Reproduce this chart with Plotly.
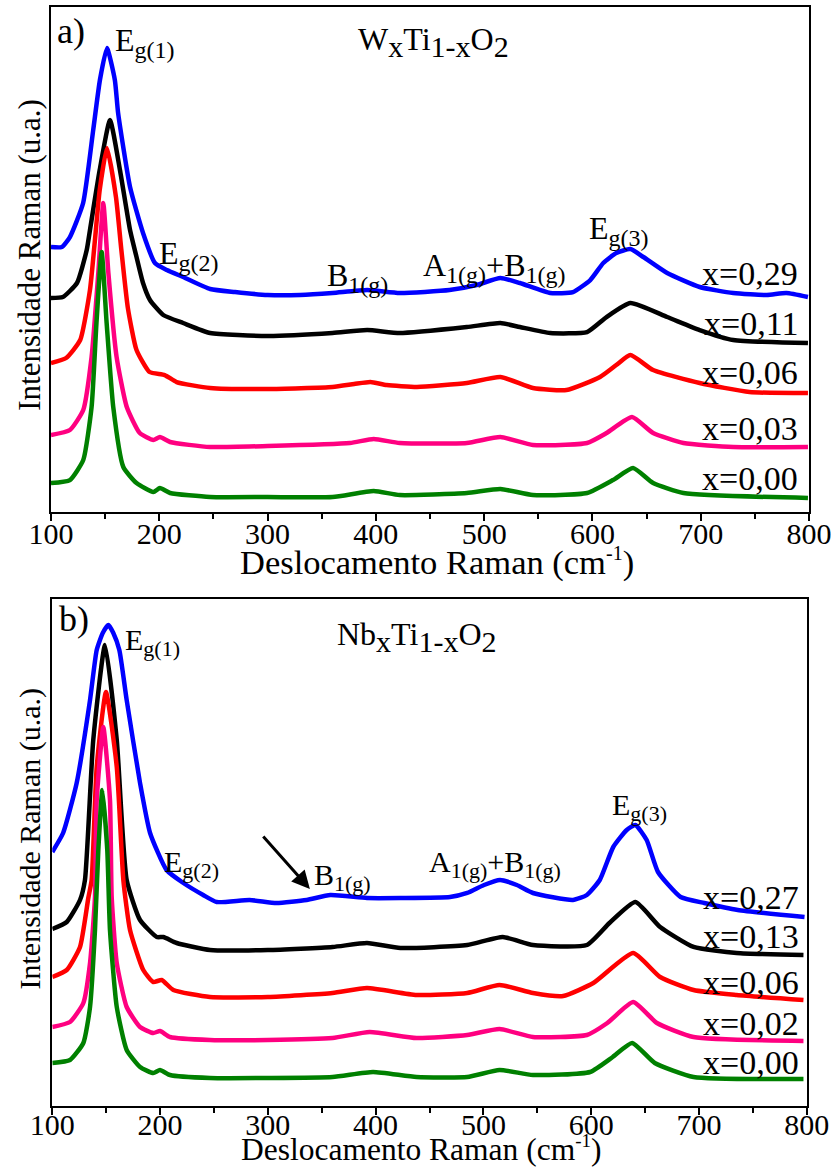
import plotly.graph_objects as go

FONT = "Liberation Serif, Times New Roman, Times, serif"

# ---------------- (a) WxTi1-xO2 : stacked Raman spectra (a.u.) ----------------
wa_000_shift = [100, 117.5, 129.8, 137.5, 142, 146.8, 151.4, 157.5, 166.8, 179, 194.5, 200.6, 210,
                247, 300, 360, 398, 422, 484, 515, 545, 595, 619, 637.5, 656, 684, 799]
wa_000_int = [29, 32, 52, 105, 189, 260, 189, 105, 45, 29, 20, 24, 19,
              15, 15, 15, 21, 17, 19, 23, 17, 19, 32, 44, 29, 19, 14]

wa_003_shift = [100, 117.5, 129.8, 137.5, 143.7, 148.3, 153, 160.6, 170, 182, 194.5, 200.6, 210,
                247, 300, 376, 398, 422, 484, 515, 545, 595, 613, 636.5, 656, 684, 730, 799]
wa_003_int = [77, 82, 102, 155, 239, 309, 239, 155, 105, 79, 72, 75, 70,
              65, 66, 69, 73, 69, 69, 75, 67, 69, 79, 95, 79, 69, 65, 65]

wa_006_shift = [100, 114, 127, 136, 140.6, 145, 151.7, 160, 165, 171, 179, 191, 205, 216,
                247, 300, 360, 380, 395, 410, 438, 484, 515, 545, 576, 607, 622, 635, 656,
                699, 745, 799]
wa_006_int = [149, 154, 172, 222, 272, 322, 364, 315, 262, 204, 162, 140, 137, 130,
              124, 123, 125, 128, 130, 127, 125, 129, 135, 124, 122, 135, 147, 157, 142,
              129, 120, 119]

wa_011_shift = [100, 111, 124, 133, 136, 145, 154.5, 163.7, 173, 179, 185, 191.4, 203.7, 222,
                247, 300, 360, 392, 422, 484, 515, 533, 561, 595, 613, 635, 669, 699, 730, 799]
wa_011_int = [214, 215, 229, 262, 282, 342, 392, 342, 282, 255, 229, 212, 197, 189,
              179, 176, 179, 182, 179, 185, 189, 185, 179, 180, 195, 209, 195, 182, 172, 169]

wa_029_shift = [100, 110, 117.5, 129.7, 139, 145.2, 151.7, 159, 162, 173, 185, 196, 207, 222,
                247, 270, 300, 330, 360, 392, 422, 468, 493, 515, 533, 561, 582, 598, 610,
                622, 635, 647, 669, 699, 730, 761, 779, 799]
wa_029_int = [265, 265, 275, 309, 382, 432, 464, 432, 399, 325, 279, 249, 242, 235,
              223, 220, 217, 217, 219, 222, 219, 222, 227, 234, 229, 219, 220, 232, 249,
              259, 263, 255, 239, 225, 219, 217, 219, 215]

# ---------------- (b) NbxTi1-xO2 : stacked Raman spectra (a.u.) ----------------
nb_000_shift = [100, 116.4, 128.8, 135, 139.6, 142.7, 146.4, 151, 153.5, 159.8, 169, 181.4,
                193.7, 199.9, 209.2, 246.3, 300, 360, 397.6, 438, 485, 515, 546, 599, 620,
                638, 659, 695, 797]
nb_000_int = [43, 46, 63, 99, 176, 256, 316, 256, 176, 99, 56, 39,
              33, 36, 31, 28, 28, 29, 34, 29, 29, 36, 31, 34, 49,
              63, 43, 29, 27]

nb_002_shift = [100, 116.4, 128.8, 135, 139.6, 141.2, 147.3, 153.5, 155.1, 159.8, 169, 181.4,
                193.7, 199.9, 209.2, 246.3, 300, 360, 394.5, 438, 485, 515, 546, 596, 615,
                639, 661, 695, 797]
nb_002_int = [79, 84, 103, 143, 209, 306, 379, 306, 209, 143, 99, 79,
              73, 75, 69, 66, 66, 68, 74, 68, 71, 77, 69, 71, 83,
              104, 83, 69, 65]

nb_006_shift = [100, 113.4, 125.7, 133.4, 136.5, 141.2, 149.8, 159.8, 166, 172.1, 184.4, 193.7,
                201.5, 212.3, 246.3, 300, 360, 392, 438, 485, 515, 546, 574, 602, 639, 664,
                695, 735, 797]
nb_006_int = [129, 136, 159, 208, 226, 339, 414, 339, 225, 176, 136, 124,
              126, 116, 109, 109, 113, 118, 111, 113, 121, 113, 110, 123, 153, 129,
              116, 111, 106]

nb_013_shift = [100, 113.4, 125.7, 130.3, 138, 148.9, 159.8, 169, 181.4, 196.9, 203, 215.4,
                246.3, 300, 360, 392, 423, 485, 518, 546, 596, 617, 641, 664, 695, 735, 797]
nb_013_int = [177, 184, 206, 226, 366, 461, 366, 226, 186, 169, 169, 163,
              156, 156, 159, 163, 158, 161, 169, 161, 161, 183, 204, 179, 159, 153, 151]

nb_027_shift = [100, 110, 122.6, 135, 141.2, 146.8, 152, 156.6, 162.2, 169, 181.4, 190.7, 206,
                221.6, 240, 252.5, 283, 308, 336, 358, 392, 423, 469, 485, 500.6, 515.4, 531,
                546, 583, 596, 608, 620.5, 633, 641, 651.5, 662, 683, 705, 736, 798]
nb_027_int = [254, 273, 323, 406, 456, 473, 481, 473, 456, 406, 323, 273, 236,
              223, 211, 204, 206, 203, 206, 211, 208, 208, 209, 213, 221, 226, 221,
              213, 206, 211, 226, 259, 276, 281, 266, 234, 209, 203, 196, 189]

colors = ["#0000FF", "#000000", "#FF0000", "#FF0080", "#008000"]

panel_a = [(wa_029_shift, wa_029_int), (wa_011_shift, wa_011_int), (wa_006_shift, wa_006_int),
           (wa_003_shift, wa_003_int), (wa_000_shift, wa_000_int)]
panel_b = [(nb_027_shift, nb_027_int), (nb_013_shift, nb_013_int), (nb_006_shift, nb_006_int),
           (nb_002_shift, nb_002_int), (nb_000_shift, nb_000_int)]

labels_a = ["x=0,29", "x=0,11", "x=0,06", "x=0,03", "x=0,00"]
labels_b = ["x=0,27", "x=0,13", "x=0,06", "x=0,02", "x=0,00"]
label_y_a = [239, 189, 140, 84, 34]
label_y_b = [208, 169, 123, 82, 43]

fig = go.Figure()

for (sx, sy), col in zip(panel_a, colors):
    fig.add_trace(go.Scatter(x=sx, y=sy, mode="lines", xaxis="x", yaxis="y",
                             line=dict(color=col, width=4.5, shape="spline", smoothing=0.5),
                             showlegend=False, hoverinfo="skip"))
for (sx, sy), col in zip(panel_b, colors):
    fig.add_trace(go.Scatter(x=sx, y=sy, mode="lines", xaxis="x2", yaxis="y2",
                             line=dict(color=col, width=4.5, shape="spline", smoothing=0.5),
                             showlegend=False, hoverinfo="skip"))

tickfont = dict(family=FONT, size=30, color="black")


def xaxis_style(domain, anchor, standoff):
    return dict(domain=domain, anchor=anchor, range=[100, 800], tick0=100, dtick=100,
                ticks="outside", ticklen=7, tickwidth=2, tickcolor="black",
                ticklabelstandoff=standoff, automargin=False,
                showline=True, linewidth=2, linecolor="black", mirror=True,
                showgrid=False, zeroline=False, tickfont=tickfont,
                minor=dict(dtick=50, ticks="outside", ticklen=5, tickwidth=2,
                           tickcolor="black", showgrid=False))


def yaxis_style(domain, anchor, top):
    return dict(domain=domain, anchor=anchor, range=[0, top], showticklabels=False,
                ticks="", showline=True, linewidth=2, linecolor="black", mirror=True,
                showgrid=False, zeroline=False, automargin=False)


def sub(s, size):
    return "<sub><span style='font-size:%dpx'>%s</span></sub>" % (size, s)


def sup(s, size):
    return "<sup><span style='font-size:%dpx'>%s</span></sup>" % (size, s)


ann = []


def txt(text, x, y, size, xref, yref, xanchor="left", yanchor="middle", angle=0):
    ann.append(dict(text=text, x=x, y=y, xref=xref, yref=yref, xanchor=xanchor,
                    yanchor=yanchor, showarrow=False, textangle=angle,
                    font=dict(family=FONT, size=size, color="black")))


# panel (a) texts
txt("a)", 118.5, 481, 36, "x", "y", xanchor="center")
txt("E" + sub("g(1)", 24), 157, 470, 32, "x", "y")
txt("W" + sub("x", 30) + "Ti" + sub("1-x", 30) + "O" + sub("2", 30), 453, 470, 32, "x", "y",
    xanchor="center")
txt("E" + sub("g(2)", 24), 198, 257, 32, "x", "y")
txt("B" + sub("1(g)", 24), 353, 235, 32, "x", "y")
txt("A" + sub("1(g)", 24) + "+B" + sub("1(g)", 24), 442, 245, 32, "x", "y")
txt("E" + sub("g(3)", 24), 595, 282, 32, "x", "y")
for lab, ly in zip(labels_a, label_y_a):
    txt(lab, 792, ly, 34, "x", "y", xanchor="right")

# panel (b) texts
txt("b)", 120, 487, 36, "x2", "y2", xanchor="center")
txt("E" + sub("g(1)", 22), 165.5, 464, 30, "x2", "y2")
txt("Nb" + sub("x", 30) + "Ti" + sub("1-x", 30) + "O" + sub("2", 30), 438, 469, 32, "x2", "y2",
    xanchor="center")
txt("E" + sub("g(2)", 22), 202, 242, 30, "x2", "y2")
txt("B" + sub("1(g)", 22), 341, 229, 30, "x2", "y2")
txt("A" + sub("1(g)", 22) + "+B" + sub("1(g)", 22), 448, 242, 30, "x2", "y2")
txt("E" + sub("g(3)", 22), 617.5, 299, 30, "x2", "y2")
for lab, ly in zip(labels_b, label_y_b):
    txt(lab, 795, ly, 34, "x2", "y2", xanchor="right")

# arrow pointing at the B1(g) band
ann.append(dict(x=339, y=217, ax=294.5, ay=271, xref="x2", yref="y2", axref="x2", ayref="y2",
                text="", showarrow=True, arrowhead=2, arrowsize=1.2, arrowwidth=3,
                arrowcolor="black"))

# axis titles
txt("Deslocamento Raman (cm" + sup("-1", 20) + ")", 0.5227, 0.5192, 34.5, "paper", "paper",
    xanchor="center")
txt("Deslocamento Raman (cm" + sup("-1", 19) + ")", 0.5024, 0.0, 31.5, "paper", "paper",
    xanchor="center", yanchor="bottom")
txt("Intensidade Raman (u.a.)", 0.0358, 0.782, 31, "paper", "paper", xanchor="center", angle=-90)
txt("Intensidade Raman (u.a.)", 0.0358, 0.2827, 30, "paper", "paper", xanchor="center", angle=-90)

fig.update_layout(
    width=837, height=1169,
    margin=dict(l=0, r=0, t=0, b=0, autoexpand=False),
    paper_bgcolor="white", plot_bgcolor="white",
    xaxis=xaxis_style([0.0609, 0.9666], "y", -13),
    yaxis=yaxis_style([0.5620, 0.9940], "x", 505),
    xaxis2=xaxis_style([0.0625, 0.9638], "y2", -16),
    yaxis2=yaxis_style([0.0539, 0.4876], "x2", 507),
    annotations=ann,
    font=dict(family=FONT, color="black"),
)

fig.write_html("out.html")
